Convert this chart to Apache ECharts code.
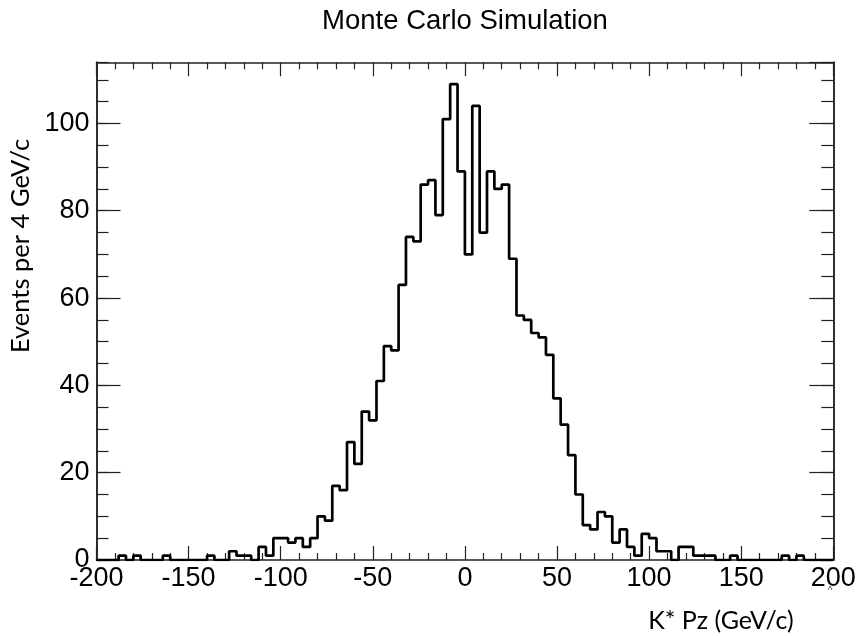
<!DOCTYPE html>
<html>
<head>
<meta charset="utf-8">
<script src="https://cdn.jsdelivr.net/npm/echarts@6/dist/echarts.min.js"></script>
<style>
  html, body { margin: 0; padding: 0; background: #fff; }
  #chart { width: 859px; height: 636px; }
</style>
</head>
<body>
<div id="chart"></div>
<script>
// Monte Carlo K* Pz distribution, 100 bins of 4 GeV/c from -200 to 200
const binLow = -200;
const binWidth = 4;
const counts = [
  0, 0, 0, 1, 0, 1, 0, 0, 0, 1,
  0, 0, 0, 0, 0, 1, 0, 0, 2, 1,
  1, 0, 3, 1, 5, 5, 4, 5, 3, 5,
  10, 9, 17, 16, 27, 22, 34, 32, 41, 49,
  48, 63, 74, 73, 86, 87, 79, 101, 109, 89,
  70, 104, 75, 89, 85, 86, 69, 56, 55, 52,
  51, 47, 37, 31, 24, 15, 8, 7, 11, 10,
  4, 7, 3, 1, 6, 5, 2, 2, 0, 3,
  3, 1, 1, 1, 0, 0, 1, 0, 0, 0,
  0, 0, 0, 1, 0, 1, 0, 0, 0, 0
];
const xRange = [-200, 200];
const yRange = [0, 114];
const xMajor = 50, xMinorSplit = 5;
const yMajor = 20, yMinor = 5;

const titleText = 'Monte Carlo Simulation';
const xTitle = 'K* Pz (GeV/c)';
const yTitle = 'Events per 4 GeV/c';

// Step outline: each point sits at a bin's lower edge, plus the closing upper edge
const outline = counts.map((c, i) => [binLow + i * binWidth, c]);
outline.push([binLow + counts.length * binWidth, counts[counts.length - 1]]);

const frame = { show: true, onZero: false, lineStyle: { color: '#222', width: 1.5 } };
const tickStyle = { color: '#222', width: 1.2 };
const labelFont = 'Liberation Sans, Arial, Helvetica, sans-serif';
const titleFont = 'Lato, "Open Sans", sans-serif';

function xAxisDef(pos, withLabels) {
  return {
    type: 'value', position: pos, min: xRange[0], max: xRange[1], interval: xMajor,
    axisLine: frame,
    axisTick: { show: true, inside: true, length: 14, lineStyle: tickStyle },
    minorTick: { show: true, splitNumber: xMinorSplit, length: 7, lineStyle: tickStyle },
    axisLabel: {
      show: withLabels, fontSize: 27, fontFamily: labelFont, color: '#000', margin: 5
    },
    splitLine: { show: false }, minorSplitLine: { show: false }
  };
}

function yAxisDef(pos, step, len, withLabels) {
  return {
    type: 'value', position: pos, min: yRange[0], max: yRange[1], interval: step, offset: 0,
    axisLine: frame,
    axisTick: { show: true, inside: true, length: len, lineStyle: tickStyle },
    axisLabel: {
      show: withLabels, fontSize: 27, fontFamily: labelFont, color: '#000', margin: 7,
      showMaxLabel: false,
      formatter: v => (v % yMajor === 0 ? String(v) : '')
    },
    splitLine: { show: false }
  };
}

const chart = echarts.init(document.getElementById('chart'), null, { renderer: 'canvas' });
chart.setOption({
  animation: false,
  backgroundColor: '#fff',
  grid: { left: 96.5, right: 25.7, top: 62.3, bottom: 76, containLabel: false },
  xAxis: [xAxisDef('bottom', true), xAxisDef('top', false)],
  yAxis: [
    yAxisDef('left', yMajor, 24, true),
    yAxisDef('left', yMinor, 12, false),
    yAxisDef('right', yMajor, 24, false),
    yAxisDef('right', yMinor, 12, false)
  ],
  series: [{
    type: 'line', xAxisIndex: 0, yAxisIndex: 0, step: 'end',
    data: outline, showSymbol: false, symbol: 'none', clip: true,
    lineStyle: { color: '#000', width: 2.7 }
  }],
  graphic: [
    {
      type: 'text', x: 465, y: 21,
      style: {
        text: titleText, fontFamily: labelFont, fontSize: 27.5,
        fill: '#000', align: 'center', verticalAlign: 'middle'
      }
    },
    {
      type: 'text', x: 21, y: 246, rotation: Math.PI / 2,
      style: {
        text: yTitle, fontFamily: titleFont, fontSize: 25.5,
        fill: '#000', align: 'center', verticalAlign: 'middle'
      }
    },
    {
      type: 'text', x: 721, y: 621,
      style: {
        text: xTitle, fontFamily: titleFont, fontSize: 25,
        fill: '#000', align: 'center', verticalAlign: 'middle'
      }
    },
    {
      type: 'text', x: 830, y: 591,
      style: { text: '^', fontFamily: labelFont, fontSize: 10, fill: '#444', align: 'center', verticalAlign: 'middle' }
    }
  ]
});
</script>
</body>
</html>
